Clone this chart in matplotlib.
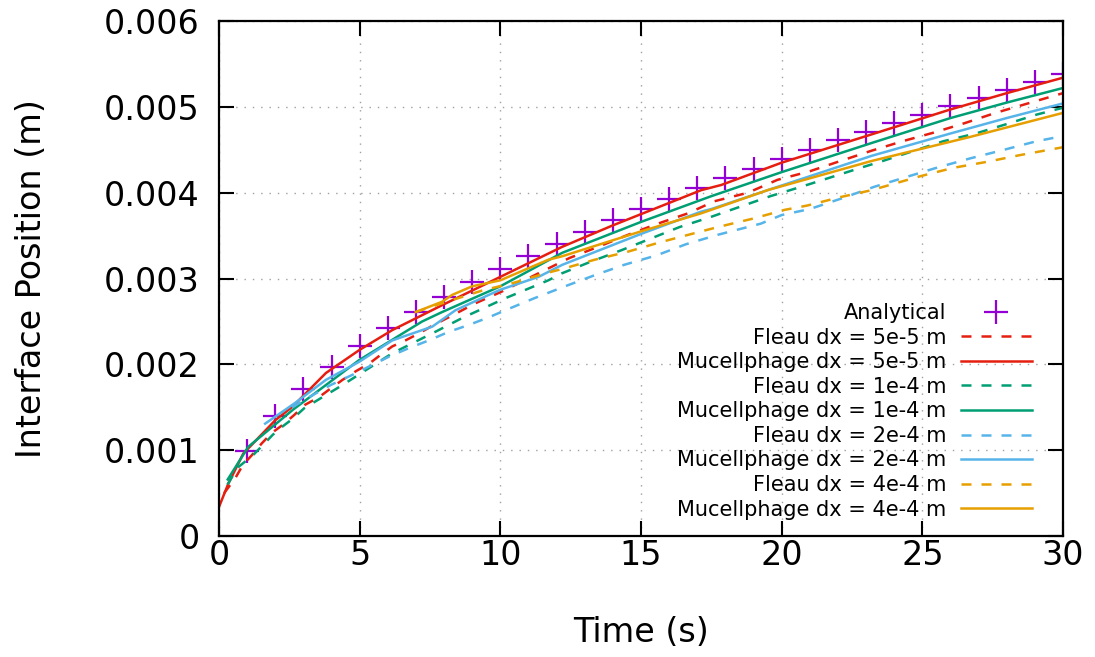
import matplotlib
matplotlib.use('Agg')
import matplotlib.pyplot as plt

# Analytical solution (markers)
t_analytical = list(range(1, 31))
x_analytical = [0.00099, 0.00140, 0.00171, 0.00197, 0.00221, 0.00242, 0.00261, 0.00279, 0.00296, 0.00311,
                0.00326, 0.00340, 0.00354, 0.00368, 0.00381, 0.00393, 0.00405, 0.00417, 0.00428, 0.00439,
                0.00450, 0.00461, 0.00471, 0.00481, 0.00491, 0.00501, 0.00510, 0.00520, 0.00529, 0.00538]

# Fleau / Mucellphage, dx = 5e-5 m
t_fleau_5e5 = [0.18, 0.57, 0.85, 1.16, 1.52, 1.87, 2.28, 2.67, 3.06, 3.56, 3.97, 4.39, 4.86, 5.34, 5.74,
               6.16, 6.63, 7.1, 7.58, 8.52, 9.1, 10.06, 11.47, 12.46, 13.48, 14.54, 15.6, 16.67, 17.6,
               18.8, 19.85, 21.0, 22.0, 23.2, 24.3, 25.4, 26.5, 27.6, 28.75, 30.0]
x_fleau_5e5 = [0.00050, 0.00067, 0.00083, 0.00094, 0.00108, 0.00120, 0.00130, 0.00141, 0.00153, 0.00162,
               0.00172, 0.00182, 0.00192, 0.00201, 0.00211, 0.00221, 0.00228, 0.00236, 0.00245, 0.00261,
               0.00271, 0.00285, 0.00308, 0.00324, 0.00337, 0.00351, 0.00364, 0.00376, 0.00390, 0.00400,
               0.00415, 0.00425, 0.00436, 0.00449, 0.00460, 0.00470, 0.00481, 0.00493, 0.00504, 0.00516]
t_muc_5e5 = [0.0, 0.33, 0.86, 2.0, 2.62, 3.8, 5.0, 6.16, 7.93, 10.0, 12.2, 14.0, 17.14, 17.85, 20.0,
             23.2, 26.0, 28.0, 30.0]
x_muc_5e5 = [0.00034, 0.00061, 0.00096, 0.00135, 0.00151, 0.00190, 0.00217, 0.00240, 0.00269, 0.00302,
             0.00337, 0.00362, 0.00403, 0.00409, 0.00435, 0.00468, 0.00497, 0.00516, 0.00534]

# dx = 1e-4 m
t_fleau_1e4 = [0.3, 0.67, 1.2, 1.56, 1.91, 2.23, 2.63, 3.03, 4.39, 6.16, 7.69, 8.64, 10.17, 11.71, 12.18,
               13.24, 14.3, 15.3, 16.37, 17.5, 18.55, 19.6, 20.7, 21.85, 22.9, 23.5, 25.75, 26.9, 28.0,
               29.06, 30.0]
x_fleau_1e4 = [0.00060, 0.00080, 0.00094, 0.00106, 0.00118, 0.00127, 0.00137, 0.00149, 0.00176, 0.00213,
               0.00238, 0.00254, 0.00277, 0.00298, 0.00306, 0.00320, 0.00333, 0.00346, 0.00360, 0.00372,
               0.00384, 0.00396, 0.00407, 0.00419, 0.00430, 0.00436, 0.00460, 0.00469, 0.00480, 0.00491,
               0.00499]
t_muc_1e4 = [0.31, 1.04, 2.62, 4.98, 7.22, 7.93, 10.0, 12.2, 15.0, 17.5, 20.0, 23.3, 26.0, 28.0, 30.0]
x_muc_1e4 = [0.00066, 0.00104, 0.00147, 0.00205, 0.00250, 0.00261, 0.00291, 0.00330, 0.00366, 0.00396,
             0.00424, 0.00459, 0.00487, 0.00505, 0.00522]

# dx = 2e-4 m
t_fleau_2e4 = [2.6, 3.1, 3.97, 4.75, 5.3, 6.04, 6.75, 7.46, 8.17, 8.88, 9.6, 10.17, 11.2, 12.3, 13.36,
               14.4, 15.55, 16.6, 17.73, 18.2, 19.26, 20.0, 21.0, 22.1, 23.3, 24.3, 25.5, 26.7, 27.9,
               29.06, 30.0]
x_fleau_2e4 = [0.00150, 0.00160, 0.00176, 0.00188, 0.00197, 0.00209, 0.00219, 0.00228, 0.00238, 0.00246,
               0.00255, 0.00263, 0.00277, 0.00291, 0.00304, 0.00316, 0.00327, 0.00340, 0.00351, 0.00355,
               0.00364, 0.00374, 0.00381, 0.00393, 0.00407, 0.00417, 0.00429, 0.00440, 0.00450, 0.00460,
               0.00466]
t_muc_2e4 = [1.64, 2.7, 3.8, 4.98, 6.16, 7.58, 8.4, 9.59, 10.0, 11.36, 12.2, 15.0, 17.14, 17.5, 19.5,
             23.2, 26.0, 28.0, 30.0]
x_muc_2e4 = [0.00131, 0.00155, 0.00182, 0.00203, 0.00228, 0.00244, 0.00263, 0.00281, 0.00287, 0.00302,
             0.00316, 0.00352, 0.00378, 0.00381, 0.00403, 0.00443, 0.00469, 0.00487, 0.00504]

# dx = 4e-4 m
t_fleau_4e4 = [6.99, 8.0, 9.35, 10.47, 11.59, 12.18, 13.36, 14.5, 15.65, 16.8, 17.73, 19.0, 20.1, 20.9,
               22.1, 23.2, 24.9, 26.1, 27.3, 28.5, 30.0]
x_fleau_4e4 = [0.00261, 0.00272, 0.00286, 0.00295, 0.00306, 0.00311, 0.00322, 0.00331, 0.00342, 0.00352,
               0.00360, 0.00370, 0.00380, 0.00385, 0.00395, 0.00403, 0.00419, 0.00429, 0.00436, 0.00444,
               0.00453]
t_muc_4e4 = [6.99, 7.93, 8.29, 9.0, 10.0, 11.71, 12.2, 15.0, 17.14, 19.5, 23.2, 26.7, 30.0]
x_muc_4e4 = [0.00261, 0.00273, 0.00281, 0.00291, 0.00298, 0.00322, 0.00326, 0.00355, 0.00376, 0.00403,
             0.00437, 0.00465, 0.00493]

x_ticks = [0, 5, 10, 15, 20, 25, 30]
y_ticks = [0, 0.001, 0.002, 0.003, 0.004, 0.005, 0.006]

purple = '#9400d3'
red = '#e51e10'
green = '#009e73'
blue = '#56b4e9'
orange = '#e69f00'

plt.rcParams['font.family'] = ['DejaVu Sans']

fig = plt.figure(figsize=(10.95, 6.57), dpi=100)
ax = fig.add_axes([0.2, 0.184, 0.7708, 0.784])

lw = 1.8
dash = (4, 4)

ax.plot(t_analytical, x_analytical, linestyle='none', marker='+', markersize=17,
        markeredgewidth=1.6, color=purple, label='Analytical')
ax.plot(t_fleau_5e5, x_fleau_5e5, color=red, lw=lw, dashes=dash, label='Fleau dx = 5e-5 m')
ax.plot(t_muc_5e5, x_muc_5e5, color=red, lw=lw, label='Mucellphage dx = 5e-5 m')
ax.plot(t_fleau_1e4, x_fleau_1e4, color=green, lw=lw, dashes=dash, label='Fleau dx = 1e-4 m')
ax.plot(t_muc_1e4, x_muc_1e4, color=green, lw=lw, label='Mucellphage dx = 1e-4 m')
ax.plot(t_fleau_2e4, x_fleau_2e4, color=blue, lw=lw, dashes=dash, label='Fleau dx = 2e-4 m')
ax.plot(t_muc_2e4, x_muc_2e4, color=blue, lw=lw, label='Mucellphage dx = 2e-4 m')
ax.plot(t_fleau_4e4, x_fleau_4e4, color=orange, lw=lw, dashes=dash, label='Fleau dx = 4e-4 m')
ax.plot(t_muc_4e4, x_muc_4e4, color=orange, lw=lw, label='Mucellphage dx = 4e-4 m')

ax.set_xlim(0, 30)
ax.set_ylim(0, 0.006)
ax.set_xticks(x_ticks)
ax.set_yticks(y_ticks)
ax.set_xticklabels([f'{v:g}' for v in x_ticks])
ax.set_yticklabels([f'{v:g}' for v in y_ticks])

ax.tick_params(axis='both', which='major', direction='in', length=11, width=1.5,
               labelsize=24, top=True, right=True)
ax.tick_params(axis='x', pad=2)
ax.tick_params(axis='y', pad=14)
for s in ax.spines.values():
    s.set_linewidth(1.6)

ax.grid(True, color='#a0a0a0', linestyle=(0, (1, 5)), linewidth=1.0)
ax.set_axisbelow(True)

ax.set_xlabel('Time (s)', fontsize=24, labelpad=32)
ax.set_ylabel('Interface Position (m)', fontsize=24, labelpad=40)

leg = ax.legend(loc='lower right', bbox_to_anchor=(0.963, 0.032), frameon=False,
                fontsize=15, markerfirst=False, handlelength=3.4, handletextpad=0.7,
                labelspacing=0.22, borderpad=0, borderaxespad=0)

fig.savefig('out.png', dpi=100)
